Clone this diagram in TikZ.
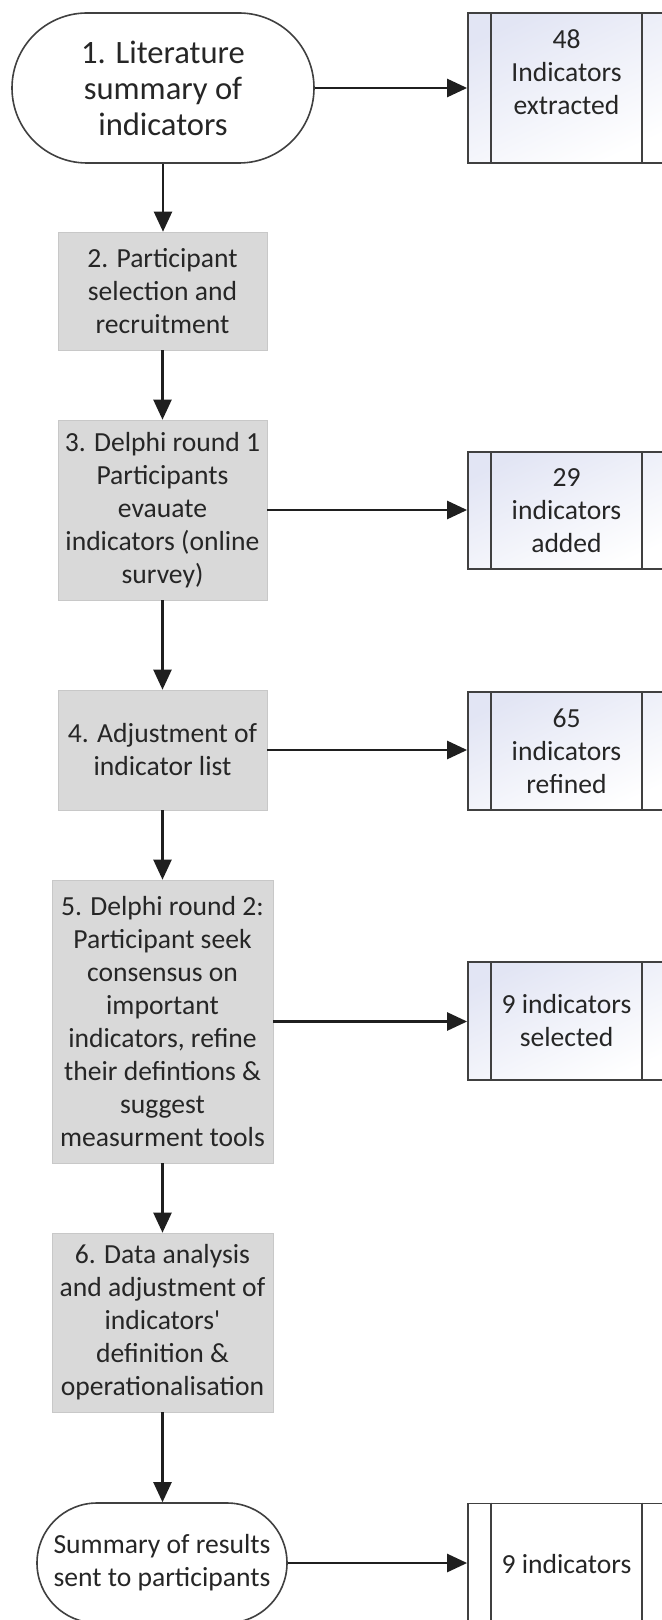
\documentclass[tikz,border=0pt]{standalone}
\usepackage{fontspec}
\setmainfont{Carlito}[Ligatures=TeXOff]
\usetikzlibrary{arrows.meta,positioning}
\definecolor{boxgray}{HTML}{D9D9D9}
\definecolor{edgegray}{HTML}{404040}
\definecolor{txtcol}{HTML}{262626}
\definecolor{lav}{HTML}{E2E5F4}
\tikzset{
  every node/.style={text=txtcol},
  basetext/.style={font=\fontsize{13.8}{16.5}\selectfont, align=center, inner sep=0pt},
  graybox/.style={basetext, fill=boxgray, draw=boxgray!92!black, line width=0.3pt},
  term/.style={basetext, draw=edgegray, fill=white, line width=0.8pt},
  termone/.style={term, font=\fontsize{16.3}{18}\selectfont, rounded corners=37.5pt, minimum width=151pt, minimum height=75pt},
  termtwo/.style={term, rounded corners=30pt, minimum width=125pt, minimum height=60pt},
  subproc/.style={basetext, draw=edgegray, line width=0.9pt, minimum width=98.5pt,
    top color=lav, bottom color=white, shading angle=25},
  subprocw/.style={basetext, draw=edgegray, line width=0.9pt, minimum width=98.5pt, fill=white},
  arr/.style={-{Triangle[length=10pt,width=9pt]}, line width=1.1pt, draw=black!88},
  harr/.style={arr, line width=1.3pt},
  bar/.style={draw=edgegray, line width=0.9pt}
}
\newcommand{\subbars}[1]{%
  \draw[bar] ([xshift=12pt]#1.north west) -- ([xshift=12pt]#1.south west);
  \draw[bar] ([xshift=-12pt]#1.north east) -- ([xshift=-12pt]#1.south east);}
\begin{document}
\begin{tikzpicture}[x=0.5pt,y=-0.5pt]
\path[use as bounding box] (0,0) rectangle (662,1620);
\clip (0,0) rectangle (662,1620);
\fill[white] (0,0) rectangle (662,1620);

% left column
\node[termone] (t1) at (163,88) {1. Literature\\summary of\\indicators};
\node[graybox, minimum width=104.5pt, minimum height=59pt] (b2) at (162.5,291) {2. Participant\\selection and\\recruitment};
\node[graybox, minimum width=104.5pt, minimum height=90pt] (b3) at (162.5,510) {3. Delphi round 1\\Participants\\evauate\\indicators (online\\survey)};
\node[graybox, minimum width=104.5pt, minimum height=60pt] (b4) at (162.5,750) {4. Adjustment of\\indicator list};
\node[graybox, minimum width=110.5pt, minimum height=141.5pt] (b5) at (162.5,1021.5) {5. Delphi round 2:\\Participant seek\\consensus on\\important\\indicators, refine\\their defintions \&\\suggest\\measurment tools};
\node[graybox, minimum width=110.5pt, minimum height=89.5pt] (b6) at (162.5,1322.5) {6. Data analysis\\and adjustment of\\indicators'\\definition \&\\operationalisation};
\node[termtwo] (t2) at (162,1563) {Summary of results\\sent to participants};

% right column
\node[subproc, minimum height=75pt] (r1) at (566.5,88) {};
\subbars{r1}
\node[basetext] (r1t) at ([yshift=8pt]r1.center) {48\\Indicators\\extracted};
\node[subproc, minimum height=58.5pt] (r2) at (566.5,510.5) {29\\indicators\\added};
\subbars{r2}
\node[subproc, minimum height=59pt] (r3) at (566.5,751) {65\\indicators\\refined};
\subbars{r3}
\node[subproc, minimum height=59pt] (r4) at (566.5,1021) {9 indicators\\selected};
\subbars{r4}
\node[subprocw, minimum height=60pt] (r5) at (566.5,1563.5) {9 indicators};
\subbars{r5}

% vertical connectors
\draw[arr] (t1.south) -- (t1.south |- b2.north);
\draw[arr] (b2.south) -- (b3.north);
\draw[arr] (b3.south) -- (b4.north);
\draw[arr] (b4.south) -- (b5.north);
\draw[arr] (b5.south) -- (b6.north);
\draw[arr] (b6.south) -- (b6.south |- t2.north);

% horizontal connectors
\draw[harr] (t1.east) -- (t1.east -| r1.west);
\draw[harr] (b3.east) -- (b3.east -| r2.west);
\draw[harr] (b4.east) -- (b4.east -| r3.west);
\draw[harr] (b5.east) -- (b5.east -| r4.west);
\draw[harr] (t2.east) -- (t2.east -| r5.west);
\end{tikzpicture}
\end{document}
